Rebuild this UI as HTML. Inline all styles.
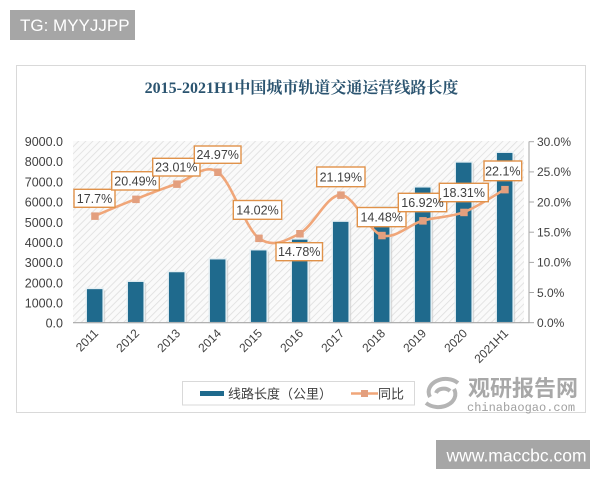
<!DOCTYPE html>
<html><head><meta charset="utf-8"><style>
html,body{margin:0;padding:0;background:#fff;}
svg{display:block;}
</style></head><body>
<svg width="600" height="480" viewBox="0 0 600 480" xmlns="http://www.w3.org/2000/svg">
<defs>
<pattern id="hatch" width="5" height="5" patternUnits="userSpaceOnUse" patternTransform="rotate(45)">
<rect width="5" height="5" fill="#fafafa"/>
<line x1="0" y1="0" x2="0" y2="5" stroke="#dedede" stroke-width="1.6"/>
</pattern>
</defs>
<rect width="600" height="480" fill="#fff"/>
<!-- TG box -->
<rect x="10" y="10" width="125" height="30" fill="#a6a6a6"/>
<text x="20" y="31" font-family="Liberation Sans, sans-serif" font-size="17" fill="#fff">TG: MYYJJPP</text>
<!-- frame -->
<rect x="16.5" y="65.5" width="569" height="347" fill="#fff" stroke="#d9d9d9" stroke-width="1"/>
<!-- title -->
<text x="301.5" y="93" text-anchor="middle" font-family="Liberation Serif, 'Noto Serif CJK SC', serif" font-weight="bold" font-size="16" fill="#2b5470">2015-2021H1中国城市轨道交通运营线路长度</text>
<!-- plot background -->
<rect x="73" y="141" width="451" height="182" fill="url(#hatch)"/>
<!-- left axis labels -->
<g font-family="Liberation Sans, sans-serif" font-size="12.5" fill="#404040" text-anchor="end">
<text x="63" y="146">9000.0</text>
<text x="63" y="166.2">8000.0</text>
<text x="63" y="186.4">7000.0</text>
<text x="63" y="206.6">6000.0</text>
<text x="63" y="226.8">5000.0</text>
<text x="63" y="246.9">4000.0</text>
<text x="63" y="267.1">3000.0</text>
<text x="63" y="287.3">2000.0</text>
<text x="63" y="307.5">1000.0</text>
<text x="63" y="327.7">0.0</text>
</g>
<!-- right axis -->
<line x1="529" y1="141.5" x2="529" y2="322.7" stroke="#a6a6a6" stroke-width="1"/>
<g stroke="#a6a6a6" stroke-width="1">
<line x1="529" y1="141.7" x2="534" y2="141.7"/>
<line x1="529" y1="171.9" x2="534" y2="171.9"/>
<line x1="529" y1="202.0" x2="534" y2="202.0"/>
<line x1="529" y1="232.2" x2="534" y2="232.2"/>
<line x1="529" y1="262.4" x2="534" y2="262.4"/>
<line x1="529" y1="292.5" x2="534" y2="292.5"/>
<line x1="529" y1="322.7" x2="534" y2="322.7"/>
</g>
<g font-family="Liberation Sans, sans-serif" font-size="12" fill="#404040">
<text x="537" y="146">30.0%</text>
<text x="537" y="176.2">25.0%</text>
<text x="537" y="206.3">20.0%</text>
<text x="537" y="236.5">15.0%</text>
<text x="537" y="266.7">10.0%</text>
<text x="537" y="296.8">5.0%</text>
<text x="537" y="327">0.0%</text>
</g>
<!-- bars shadows -->
<g fill="#c8c8c8" opacity="0.6">
<rect x="88.2" y="290.4" width="17" height="32.3"/>
<rect x="129.2" y="283.2" width="17" height="39.5"/>
<rect x="170.2" y="273.5" width="17" height="49.2"/>
<rect x="211.2" y="260.7" width="17" height="62"/>
<rect x="252.2" y="251.7" width="17" height="71"/>
<rect x="293.2" y="240.9" width="17" height="81.8"/>
<rect x="334.2" y="223.1" width="17" height="99.6"/>
<rect x="375.2" y="208.4" width="17" height="114.3"/>
<rect x="416.2" y="188.8" width="17" height="133.9"/>
<rect x="457.2" y="163.9" width="17" height="158.8"/>
<rect x="498.2" y="154.2" width="17" height="168.5"/>
</g>
<!-- bars -->
<g fill="#1f6a8d" stroke="#e6f0f4" stroke-width="1.5">
<rect x="86.2" y="288.4" width="17" height="34.3"/>
<rect x="127.2" y="281.2" width="17" height="41.5"/>
<rect x="168.2" y="271.5" width="17" height="51.2"/>
<rect x="209.2" y="258.7" width="17" height="64"/>
<rect x="250.2" y="249.7" width="17" height="73"/>
<rect x="291.2" y="238.9" width="17" height="83.8"/>
<rect x="332.2" y="221.1" width="17" height="101.6"/>
<rect x="373.2" y="206.4" width="17" height="116.3"/>
<rect x="414.2" y="186.8" width="17" height="135.9"/>
<rect x="455.2" y="161.9" width="17" height="160.8"/>
<rect x="496.2" y="152.2" width="17" height="170.5"/>
</g>
<!-- x axis -->
<line x1="73" y1="322.7" x2="529" y2="322.7" stroke="#a6a6a6" stroke-width="1.2"/>
<!-- x labels -->
<g font-family="Liberation Sans, sans-serif" font-size="12" fill="#404040" text-anchor="end">
<text transform="translate(99,334) rotate(-45)">2011</text>
<text transform="translate(140,334) rotate(-45)">2012</text>
<text transform="translate(181,334) rotate(-45)">2013</text>
<text transform="translate(222,334) rotate(-45)">2014</text>
<text transform="translate(263,334) rotate(-45)">2015</text>
<text transform="translate(304,334) rotate(-45)">2016</text>
<text transform="translate(345,334) rotate(-45)">2017</text>
<text transform="translate(386,334) rotate(-45)">2018</text>
<text transform="translate(427,334) rotate(-45)">2019</text>
<text transform="translate(468,334) rotate(-45)">2020</text>
<text transform="translate(509,334) rotate(-45)">2021H1</text>
</g>
<!-- line -->
<path d="M94.7,215.9 C101.5,213.1 122.0,204.4 135.7,199.1 C149.4,193.8 163.0,188.4 176.7,183.9 C190.4,179.4 204.0,163.0 217.7,172.0 C231.4,181.0 245.0,227.85 258.7,238.1 C272.4,248.35 286.0,240.7 299.7,233.5 C313.4,226.3 327.0,194.6 340.7,194.9 C354.4,195.2 368.0,231.0 381.7,235.3 C395.4,239.6 409.0,224.45 422.7,220.6 C436.4,216.75 450.0,217.4 463.7,212.2 C477.4,207.0 497.9,193.2 504.7,189.4" fill="none" stroke="#f0a679" stroke-width="2.6"/>
<g fill="#e39f7e">
<rect x="91.2" y="212.4" width="7.5" height="7.5"/>
<rect x="132.2" y="195.6" width="7.5" height="7.5"/>
<rect x="173.2" y="180.4" width="7.5" height="7.5"/>
<rect x="214.2" y="168.5" width="7.5" height="7.5"/>
<rect x="255.2" y="234.6" width="7.5" height="7.5"/>
<rect x="296.2" y="230.0" width="7.5" height="7.5"/>
<rect x="337.2" y="191.4" width="7.5" height="7.5"/>
<rect x="378.2" y="231.8" width="7.5" height="7.5"/>
<rect x="419.2" y="217.1" width="7.5" height="7.5"/>
<rect x="460.2" y="208.7" width="7.5" height="7.5"/>
<rect x="501.2" y="185.9" width="7.5" height="7.5"/>
</g>
<!-- data labels -->
<g fill="#fff" stroke="#e0924a" stroke-width="1.4">
<rect x="74" y="189.3" width="41" height="18"/>
<rect x="111.7" y="171.7" width="47.6" height="18.3"/>
<rect x="152.7" y="158.3" width="47.3" height="17.7"/>
<rect x="194.3" y="146" width="46.7" height="17.3"/>
<rect x="233.3" y="200.5" width="48.4" height="18.8"/>
<rect x="276" y="242.7" width="46.5" height="18"/>
<rect x="316.7" y="167" width="48.3" height="19.7"/>
<rect x="357.3" y="207.5" width="48.7" height="19.2"/>
<rect x="398.3" y="193.3" width="48.4" height="18.4"/>
<rect x="439.3" y="183.3" width="49" height="18.4"/>
<rect x="484" y="161" width="37.7" height="19.7"/>
</g>
<g font-family="Liberation Sans, sans-serif" font-size="12.5" fill="#404040" text-anchor="middle">
<text x="94.5" y="202.8">17.7%</text>
<text x="135.5" y="185.3">20.49%</text>
<text x="176.3" y="171.6">23.01%</text>
<text x="217.7" y="159.2">24.97%</text>
<text x="257.5" y="214.4">14.02%</text>
<text x="299.2" y="256.2">14.78%</text>
<text x="340.8" y="181.3">21.19%</text>
<text x="381.7" y="221.6">14.48%</text>
<text x="422.5" y="207">16.92%</text>
<text x="463.8" y="197">18.31%</text>
<text x="502.8" y="175.3">22.1%</text>
</g>
<!-- legend -->
<rect x="182.5" y="381.5" width="232" height="23.5" fill="#fff" stroke="#d9d9d9" stroke-width="1"/>
<rect x="200" y="391" width="24" height="5" fill="#1f6a8d"/>
<text x="228" y="398.5" font-family="Liberation Sans, 'Noto Sans CJK SC', sans-serif" font-size="13" fill="#404040">线路长度（公里）</text>
<line x1="351" y1="393.5" x2="378" y2="393.5" stroke="#f0a679" stroke-width="2.5"/>
<rect x="361" y="390" width="7" height="7" fill="#e39f7e"/>
<text x="378" y="398.5" font-family="Liberation Sans, 'Noto Sans CJK SC', sans-serif" font-size="13" fill="#404040">同比</text>
<!-- watermark -->
<g fill="none" stroke="#b4b4b4" stroke-width="4">
<path d="M430,397 A17,13 0 0 1 458,383"/>
<path d="M454,389 A17,13 0 0 1 426,403"/>
<path d="M436,393 A8,6 0 0 1 450,391"/>
</g>
<text x="468" y="396" font-family="'Noto Sans CJK SC', sans-serif" font-weight="bold" font-size="22" fill="#a8a8a8" letter-spacing="0">观研报告网</text>
<text x="467" y="411" font-family="Liberation Mono, monospace" font-size="12" fill="#a0a0a0">chinabaogao.com</text>
<!-- www box -->
<rect x="436" y="440" width="154" height="29" fill="#a6a6a6"/>
<text x="446.5" y="461.5" font-family="Liberation Sans, sans-serif" font-size="17.5" fill="#fff">www.maccbc.com</text>
</svg>
</body></html>
